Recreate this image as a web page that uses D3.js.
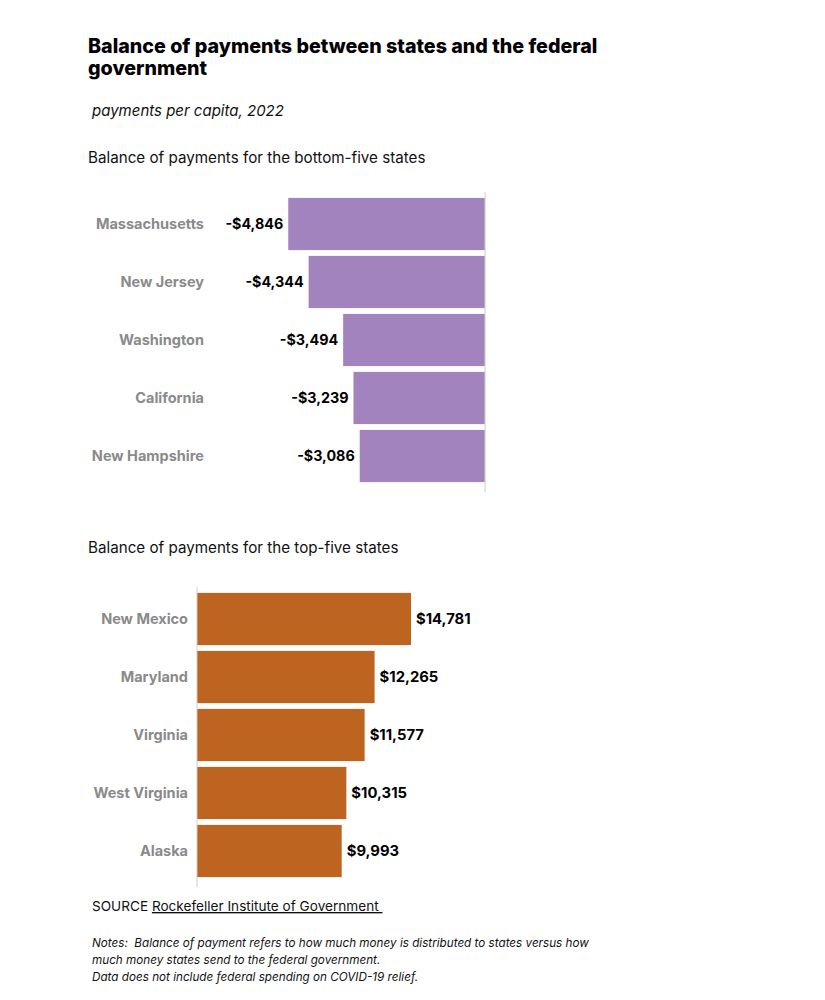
<!DOCTYPE html>
<html>
<head>
<meta charset="utf-8">
<script src="https://cdn.jsdelivr.net/npm/d3@7"></script>
<style>
  body { margin: 0; background: #fff; }
  svg { font-family: Inter, "Open Sans", sans-serif; }
</style>
</head>
<body>
<svg id="chart" width="825" height="1000"></svg>
<script>
const bottomStates = ["Massachusetts", "New Jersey", "Washington", "California", "New Hampshire"];
const bottomValues = [-4846, -4344, -3494, -3239, -3086];
const topStates = ["New Mexico", "Maryland", "Virginia", "West Virginia", "Alaska"];
const topValues = [14781, 12265, 11577, 10315, 9993];

const fmt = v => (v < 0 ? "-$" : "$") + d3.format(",")(Math.abs(v));

const svg = d3.select("#chart");

// Title
const title = svg.append("text").attr("x", 88).attr("font-size", 19.7).attr("font-weight", 800).attr("fill", "#000");
title.append("tspan").attr("x", 88).attr("y", 53).text("Balance of payments between states and the federal");
title.append("tspan").attr("x", 88).attr("y", 75).text("government");

svg.append("text").attr("x", 92).attr("y", 116).attr("font-size", 15).attr("font-style", "italic")
  .attr("fill", "#111").text("payments per capita, 2022");

svg.append("text").attr("x", 88).attr("y", 163).attr("font-size", 15.2).attr("fill", "#111")
  .text("Balance of payments for the bottom-five states");

svg.append("text").attr("x", 88).attr("y", 553).attr("font-size", 15.2).attr("fill", "#111")
  .text("Balance of payments for the top-five states");

// Bottom chart
const x1 = d3.scaleLinear().domain([-5000, 0]).range([282, 485]);
const y1 = d3.scaleBand().domain(bottomStates).range([195, 485]).paddingInner(0.1).paddingOuter(0.05);
const g1 = svg.append("g");
g1.selectAll("rect").data(bottomStates).join("rect")
  .attr("x", (d, i) => x1(bottomValues[i]))
  .attr("y", d => y1(d))
  .attr("width", (d, i) => x1(0) - x1(bottomValues[i]))
  .attr("height", y1.bandwidth())
  .attr("fill", "#a283bd");
g1.append("line").attr("x1", x1(0)).attr("x2", x1(0)).attr("y1", 192).attr("y2", 492)
  .attr("stroke", "#ccc").attr("stroke-width", 1);
g1.selectAll("text.state").data(bottomStates).join("text").attr("class", "state")
  .attr("x", 204).attr("y", d => y1(d) + y1.bandwidth() / 2).attr("dy", "0.35em")
  .attr("text-anchor", "end").attr("font-size", 14.5).attr("font-weight", 700).attr("fill", "#8a8a8a")
  .text(d => d);
g1.selectAll("text.val").data(bottomStates).join("text").attr("class", "val")
  .attr("x", (d, i) => x1(bottomValues[i]) - 5).attr("y", d => y1(d) + y1.bandwidth() / 2).attr("dy", "0.35em")
  .attr("text-anchor", "end").attr("font-size", 14.3).attr("font-weight", 700).attr("fill", "#000")
  .text((d, i) => fmt(bottomValues[i]));

// Top chart
const x2 = d3.scaleLinear().domain([0, 15000]).range([197, 414.2]);
const y2 = d3.scaleBand().domain(topStates).range([590, 880]).paddingInner(0.1).paddingOuter(0.05);
const g2 = svg.append("g");
g2.selectAll("rect").data(topStates).join("rect")
  .attr("x", x2(0))
  .attr("y", d => y2(d))
  .attr("width", (d, i) => x2(topValues[i]) - x2(0))
  .attr("height", y2.bandwidth())
  .attr("fill", "#bd6420");
g2.append("line").attr("x1", x2(0)).attr("x2", x2(0)).attr("y1", 587).attr("y2", 887)
  .attr("stroke", "#ccc").attr("stroke-width", 1);
g2.selectAll("text.state").data(topStates).join("text").attr("class", "state")
  .attr("x", 188).attr("y", d => y2(d) + y2.bandwidth() / 2).attr("dy", "0.35em")
  .attr("text-anchor", "end").attr("font-size", 14.5).attr("font-weight", 700).attr("fill", "#8a8a8a")
  .text(d => d);
g2.selectAll("text.val").data(topStates).join("text").attr("class", "val")
  .attr("x", (d, i) => x2(topValues[i]) + 5).attr("y", d => y2(d) + y2.bandwidth() / 2).attr("dy", "0.35em")
  .attr("text-anchor", "start").attr("font-size", 14.8).attr("font-weight", 700).attr("fill", "#000")
  .text((d, i) => fmt(topValues[i]));

// Source
const src = svg.append("text").attr("x", 92).attr("y", 911).attr("font-size", 13.6).attr("fill", "#111")
  .attr("xml:space", "preserve").style("white-space", "pre");
src.append("tspan").text("SOURCE ");
src.append("tspan").attr("text-decoration", "underline").text("Rockefeller Institute of Government ");

const notes = [
  "Notes:  Balance of payment refers to how much money is distributed to states versus how",
  "much money states send to the federal government.",
  "Data does not include federal spending on COVID-19 relief."
];
svg.append("g").selectAll("text").data(notes).join("text")
  .attr("x", 92).attr("y", (d, i) => 947 + i * 17).attr("font-size", 11.7).attr("font-style", "italic")
  .attr("fill", "#111").attr("xml:space", "preserve").style("white-space", "pre").text(d => d);
</script>
</body>
</html>
